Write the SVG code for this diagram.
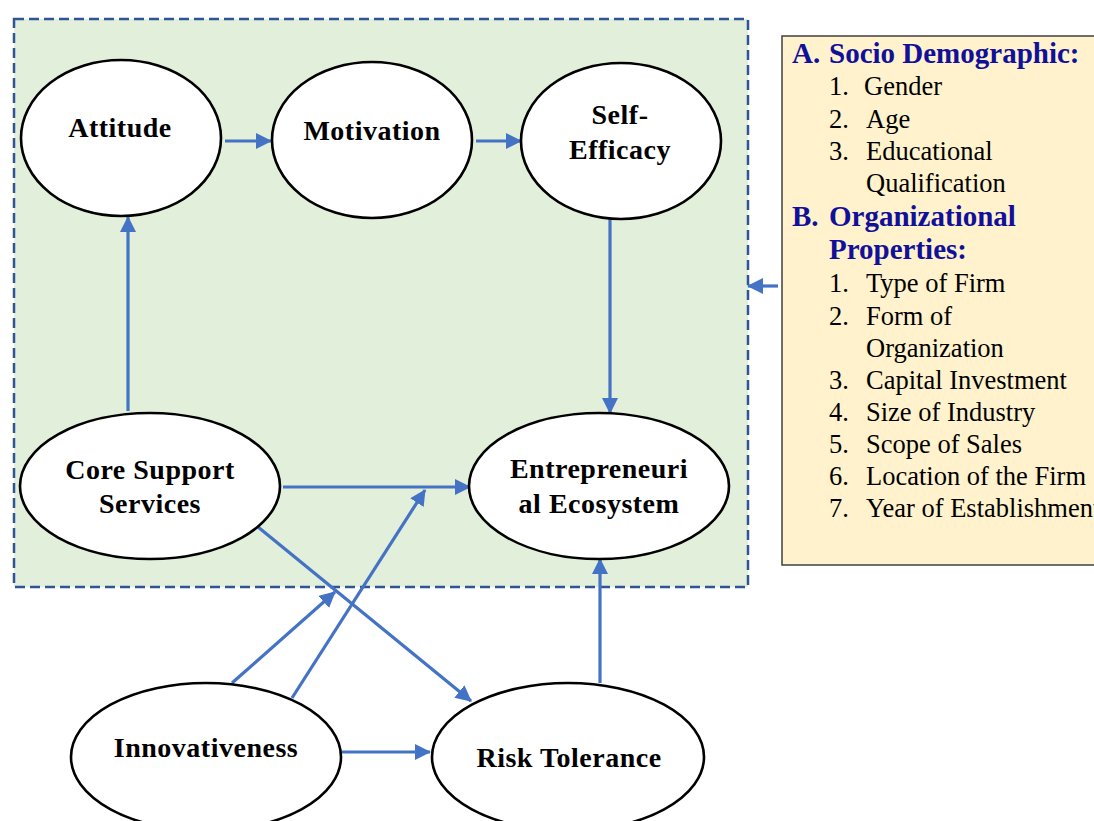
<svg xmlns="http://www.w3.org/2000/svg" width="1094" height="821" viewBox="0 0 1094 821">
  <style>
    .node ellipse { fill: #ffffff; stroke: #000000; stroke-width: 2.6; }
    .node text { font-family: "Liberation Serif", "Times New Roman", serif; font-weight: bold; font-size: 28px; letter-spacing: 0.5px; fill: #000000; text-anchor: middle; }
    .conn line { stroke: #4472C4; stroke-width: 3.2; marker-end: url(#arrow); }
    .list { font-family: "Liberation Serif", "Times New Roman", serif; font-size: 26.5px; fill: #000000; }
    .head { font-family: "Liberation Serif", "Times New Roman", serif; font-size: 29px; font-weight: bold; fill: #10109A; }
  </style>
  <defs>
    <marker id="arrow" markerUnits="userSpaceOnUse" markerWidth="18" markerHeight="18" refX="15" refY="8" orient="auto">
      <path d="M0,0 L16,8 L0,16 z" fill="#4472C4"/>
    </marker>
  </defs>

  <rect width="1094" height="821" fill="#ffffff"/>

  <!-- shaded frame around the core constructs -->
  <g id="frame">
    <rect x="14" y="19" width="734" height="568" fill="#E2EFDA" stroke="#2F5597" stroke-width="2.5" stroke-dasharray="10,5"/>
  </g>

  <!-- control variables panel -->
  <g id="controls">
    <rect x="782" y="36" width="320" height="529" fill="#FFF2CC" stroke="#404040" stroke-width="1.5"/>
    <text class="head" x="792" y="63">A.</text>
    <text class="head" x="829" y="63">Socio Demographic:</text>
    <text class="list" x="829" y="95">1.</text><text class="list" x="864" y="95">Gender</text>
    <text class="list" x="829" y="128">2.</text><text class="list" x="866" y="128">Age</text>
    <text class="list" x="829" y="160">3.</text><text class="list" x="866" y="160">Educational</text>
    <text class="list" x="866" y="192">Qualification</text>
    <text class="head" x="792" y="226">B.</text>
    <text class="head" x="829" y="226">Organizational</text>
    <text class="head" x="829" y="259">Properties:</text>
    <text class="list" x="829" y="292">1.</text><text class="list" x="866" y="292">Type of Firm</text>
    <text class="list" x="829" y="325">2.</text><text class="list" x="866" y="325">Form of</text>
    <text class="list" x="866" y="357">Organization</text>
    <text class="list" x="829" y="389">3.</text><text class="list" x="866" y="389">Capital Investment</text>
    <text class="list" x="829" y="421">4.</text><text class="list" x="866" y="421">Size of Industry</text>
    <text class="list" x="829" y="453">5.</text><text class="list" x="866" y="453">Scope of Sales</text>
    <text class="list" x="829" y="485">6.</text><text class="list" x="866" y="485">Location of the Firm</text>
    <text class="list" x="829" y="517">7.</text><text class="list" x="866" y="517">Year of Establishment</text>
  </g>

  <!-- connectors -->
  <g id="connectors" class="conn">
    <line x1="225" y1="141" x2="271" y2="141"/>
    <line x1="476" y1="141" x2="521" y2="141"/>
    <line x1="610" y1="218" x2="610" y2="413"/>
    <line x1="128" y1="411" x2="128" y2="217"/>
    <line x1="283" y1="487" x2="470" y2="487"/>
    <line x1="258" y1="527" x2="471" y2="701"/>
    <line x1="232" y1="683" x2="335" y2="592"/>
    <line x1="292" y1="698" x2="425" y2="490"/>
    <line x1="342" y1="752" x2="430" y2="752"/>
    <line x1="600" y1="683" x2="600" y2="559"/>
    <line x1="778" y1="286" x2="748" y2="286"/>
  </g>

  <!-- constructs -->
  <g id="attitude" class="node">
    <ellipse cx="121" cy="138" rx="100" ry="78"/>
    <text x="120" y="137">Attitude</text>
  </g>
  <g id="motivation" class="node">
    <ellipse cx="372" cy="140" rx="100" ry="78"/>
    <text x="372" y="140">Motivation</text>
  </g>
  <g id="self-efficacy" class="node">
    <ellipse cx="621" cy="141" rx="100" ry="78"/>
    <text x="620" y="124">Self-</text>
    <text x="620" y="159">Efficacy</text>
  </g>
  <g id="core-support" class="node">
    <ellipse cx="150" cy="486" rx="130" ry="73"/>
    <text x="150" y="479">Core Support</text>
    <text x="150" y="513">Services</text>
  </g>
  <g id="ecosystem" class="node">
    <ellipse cx="599" cy="486" rx="130" ry="73"/>
    <text x="599" y="478">Entrepreneuri</text>
    <text x="599" y="513">al Ecosystem</text>
  </g>
  <g id="innovativeness" class="node">
    <ellipse cx="206" cy="757" rx="135" ry="74"/>
    <text x="206" y="757">Innovativeness</text>
  </g>
  <g id="risk-tolerance" class="node">
    <ellipse cx="568" cy="757" rx="136" ry="74"/>
    <text x="569" y="767">Risk Tolerance</text>
  </g>
</svg>
